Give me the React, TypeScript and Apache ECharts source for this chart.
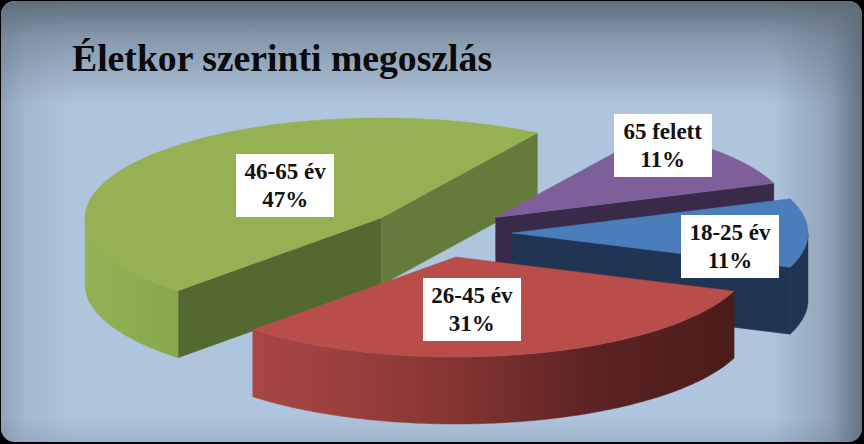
import React, { useEffect, useRef } from "react";
import * as echarts from "echarts";

const titleText = "Életkor szerinti megoszlás";
const categories = ["18-25 év", "26-45 év", "46-65 év", "65 felett"];
const shares = [11.1, 31.49, 46.81, 10.6];
const percentLabels = ["11%", "31%", "47%", "11%"];

const WIDTH = 864;
const HEIGHT = 444;
const startAngle = 20;
const centre = { x: 439, y: 233 };
const radiusX = 296;
const radiusY = 100;
const depth = 67;
const explode = 73;

const layerOrder = [3, 4, 1, 2];
const topColors = ["#4A7DBA", "#B94D4A", "#95B154", "#7F5F9A"];
const radialColors = [
  ["#1F3552", "#1F3552"],
  ["#8B3836", "#8B3836"],
  ["#54692F", "#657B3B"],
  ["#3A2A4A", "#3A2A4A"],
];
const rimStops = [
  [[0, "#1F3552"], [1, "#1F3552"]],
  [[0, "#A84644"], [0.25, "#963D3B"], [0.45, "#7F3331"], [0.7, "#5C2423"], [1, "#4A1B1A"]],
  [[0, "#93B154"], [1, "#89A84E"]],
  [[0, "#3A2A4A"], [1, "#3A2A4A"]],
];
// Label box centre, relative to the tip of the slice it belongs to
const labelOffsets = [
  [218, 14],
  [16, 53],
  [-96, -32],
  [167, -72],
];

const rad = (d: number) => (d * Math.PI) / 180;
const total = shares.reduce((a, b) => a + b, 0);

function renderSlice(params: any, api: any) {
  const i = params.dataIndex;
  const before = shares.slice(0, i).reduce((a, b) => a + b, 0);
  const hi = startAngle - (before / total) * 360;
  const lo = hi - (api.value(0) / total) * 360;
  const mid = rad((hi + lo) / 2);
  const tip = {
    x: centre.x + explode * Math.cos(mid),
    y: centre.y - (explode * Math.sin(mid) * radiusY) / radiusX,
  };
  const at = (deg: number, drop = 0): number[] => [
    tip.x + radiusX * Math.cos(rad(deg)),
    tip.y - radiusY * Math.sin(rad(deg)) + drop,
  ];
  const arc = (from: number, to: number, drop = 0) => {
    const n = Math.max(2, Math.ceil(Math.abs(from - to)));
    const pts: number[][] = [];
    for (let k = 0; k <= n; k++) pts.push(at(from + ((to - from) * k) / n, drop));
    return pts;
  };
  const z = layerOrder[i] * 10;
  const children: any[] = [];
  const radial = (deg: number, fill: string, zz: number) =>
    children.push({
      type: "polygon",
      z2: zz,
      shape: {
        points: [[tip.x, tip.y], at(deg), at(deg, depth), [tip.x, tip.y + depth]],
      },
      style: { fill, stroke: fill, lineWidth: 0.5 },
    });
  if (Math.cos(rad(hi)) < 0) radial(hi, radialColors[i][0], z + 1);
  if (Math.cos(rad(lo)) > 0) radial(lo, radialColors[i][1], z + 1);

  const rimHi = Math.min(hi, 0);
  const rimLo = Math.max(lo, -180);
  if (rimHi > rimLo) {
    const minX = Math.min(at(rimHi)[0], at(rimLo)[0]);
    const maxX = Math.max(at(rimHi)[0], at(rimLo)[0]);
    const rimFill = () =>
      new echarts.graphic.LinearGradient(
        minX,
        0,
        maxX,
        0,
        rimStops[i].map(([offset, color]) => ({ offset, color })) as any,
        true
      );
    children.push({
      type: "polygon",
      z2: z + 2,
      shape: { points: [...arc(rimHi, rimLo), ...arc(rimLo, rimHi, depth)] },
      style: { fill: rimFill(), stroke: rimFill(), lineWidth: 0.5 },
    });
  }
  children.push({
    type: "polygon",
    z2: z + 3,
    shape: { points: [[tip.x, tip.y], ...arc(hi, lo)] },
    style: { fill: topColors[i], stroke: topColors[i], lineWidth: 0.5 },
  });

  const cx = tip.x + labelOffsets[i][0];
  const cy = tip.y + labelOffsets[i][1];
  children.push({
    type: "rect",
    z2: 200,
    shape: { x: Math.round(cx - 49), y: Math.round(cy - 31.5), width: 98, height: 63 },
    style: { fill: "#FFFFFF" },
  });
  children.push({
    type: "text",
    z2: 201,
    x: cx,
    y: cy,
    style: {
      text: `${categories[i]}\n${percentLabels[i]}`,
      x: 0,
      y: 0,
      align: "center",
      verticalAlign: "middle",
      fill: "#111111",
      lineHeight: 28,
      font: 'bold 23px "Liberation Serif"',
    },
  });
  return { type: "group", children };
}

function edge(shape: any, x: number, y: number, x2: number, y2: number, color: string, stops: [number, number][]) {
  return {
    type: "rect",
    silent: true,
    shape,
    style: {
      fill: new echarts.graphic.LinearGradient(
        x,
        y,
        x2,
        y2,
        stops.map(([offset, a]) => ({ offset, color: `rgba(${color},${a})` }))
      ),
    },
  };
}

export default function App() {
  const ref = useRef<HTMLDivElement>(null);
  useEffect(() => {
    document.body.style.margin = "0";
    const chart = echarts.init(ref.current!, undefined, { renderer: "svg" });
    const x0 = 1;
    const y0 = 1;
    const w = 861;
    const h = 441;
    chart.setOption({
      animation: false,
      backgroundColor: "#000000",
      graphic: [
        {
          type: "rect",
          silent: true,
          z: 0,
          shape: { x: x0, y: y0, width: w, height: h, r: 14 },
          style: { fill: "#AFC4DD" },
        },
        edge({ x: x0, y: y0, width: 70, height: h, r: [14, 0, 0, 14] }, 0, 0, 1, 0, "100,115,130", [[0, 0.4], [0.35, 0.15], [1, 0]]),
        edge({ x: x0 + w - 90, y: y0, width: 90, height: h, r: [0, 14, 14, 0] }, 1, 0, 0, 0, "95,110,125", [[0, 0.95], [0.35, 0.4], [1, 0]]),
        edge({ x: x0, y: y0 + h - 25, width: w, height: 25, r: [0, 0, 14, 14] }, 0, 1, 0, 0, "100,115,130", [[0, 0.22], [1, 0]]),
        edge({ x: x0, y: y0, width: w, height: 105, r: [14, 14, 0, 0] }, 0, 0, 0, 1, "95,108,122", [[0, 1], [0.35, 0.5], [1, 0]]),
        {
          type: "text",
          z: 1,
          x: 72,
          y: 58,
          style: {
            text: titleText,
            font: 'bold 37.7px "Liberation Serif"',
            fill: "#0A0A0A",
            align: "left",
            verticalAlign: "middle",
          },
        },
      ],
      series: [
        {
          type: "custom",
          coordinateSystem: "none",
          renderItem: renderSlice,
          data: shares.map((value, index) => ({ value: [value], name: categories[index] })),
          silent: true,
        },
      ],
    });
    return () => chart.dispose();
  }, []);
  return <div ref={ref} style={{ width: WIDTH, height: HEIGHT }} />;
}
